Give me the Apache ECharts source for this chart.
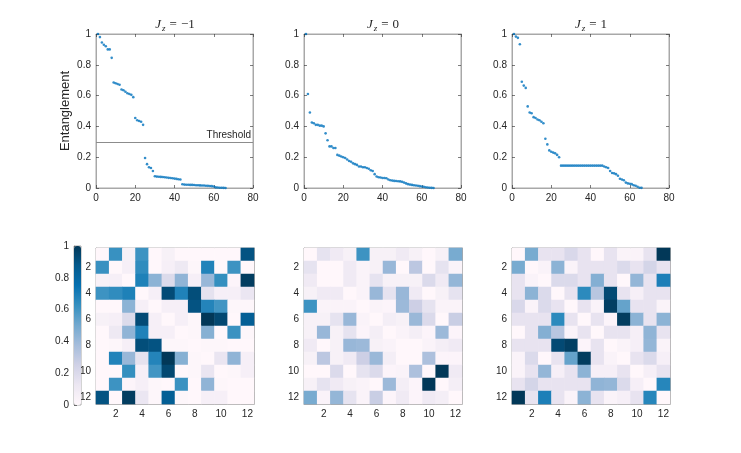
<!DOCTYPE html>
<html lang="en">
<head>
<meta charset="UTF-8">
<title>Entanglement</title>
<style>
  * { box-sizing: border-box; padding: 0; margin: 0; }
  html, body, #main { width: 100%; height: 100%; background: #fff; }
</style>
<script src="https://cdn.jsdelivr.net/npm/echarts@6/dist/echarts.min.js"></script>
</head>
<body>
<div id="main"></div>
<script>
// sorted pair entanglement, one list per Jz
var entMinus = [1.0, 0.98, 0.945, 0.93, 0.92, 0.90, 0.90, 0.845,
  0.685, 0.68, 0.675, 0.67, 0.64, 0.635, 0.625, 0.615, 0.61, 0.605, 0.59,
  0.455, 0.44, 0.435, 0.43, 0.41,
  0.195, 0.155, 0.135, 0.13, 0.11,
  0.076, 0.074, 0.073, 0.072, 0.071, 0.07, 0.068, 0.066, 0.065, 0.063, 0.061, 0.059, 0.057, 0.055,
  0.024, 0.022, 0.021, 0.021, 0.02, 0.02, 0.019, 0.018, 0.018, 0.017, 0.016, 0.016, 0.015, 0.014, 0.013, 0.012, 0.01,
  0.004, 0.003, 0.002, 0.002, 0.001, 0];
var entZero = [1.0, 0.61, 0.49, 0.425, 0.42, 0.41, 0.41, 0.405, 0.405, 0.40,
  0.355, 0.31, 0.27, 0.27, 0.26, 0.26, 0.215, 0.21, 0.205, 0.20,
  0.195, 0.185, 0.175, 0.17, 0.16, 0.155, 0.15, 0.14, 0.14, 0.135,
  0.135, 0.13, 0.125, 0.115, 0.11, 0.09, 0.075, 0.07, 0.068, 0.065,
  0.065, 0.063, 0.055, 0.05, 0.048, 0.046, 0.045, 0.044, 0.043, 0.04,
  0.035, 0.03, 0.025, 0.022, 0.02, 0.018, 0.016, 0.015, 0.012, 0.01,
  0.008, 0.005, 0.003, 0.002, 0.001, 0];
var entPlus = [1.0, 0.983, 0.975, 0.933, 0.69, 0.665, 0.65, 0.53, 0.49, 0.485,
  0.46, 0.455, 0.445, 0.44, 0.43, 0.42, 0.32, 0.283, 0.244, 0.235,
  0.23, 0.225, 0.215, 0.2,
  0.145, 0.145, 0.145, 0.145, 0.145, 0.145, 0.145, 0.145, 0.145, 0.145, 0.145,
  0.145, 0.145, 0.145, 0.145, 0.145, 0.145, 0.145, 0.145, 0.145, 0.145, 0.145,
  0.14, 0.135, 0.13, 0.11, 0.097, 0.095, 0.09, 0.08, 0.06, 0.055,
  0.05, 0.035, 0.03, 0.028, 0.025, 0.018, 0.015, 0.008, 0.002, 0.001];

// 12x12 site-pair matrices (row i, column j)
var matMinus = [
  [0, .62, .05, .61, 0, .05, 0, 0, 0, 0, 0, .90],
  [.62, 0, .06, .64, 0, .06, .11, .01, .675, 0, .61, 0],
  [.05, .06, 0, .685, .44, .195, .43, .06, .41, .63, .02, .98],
  [.61, .64, .685, 0, .06, .93, .68, .92, .155, .06, .06, .13],
  [0, 0, .44, .06, 0, .06, .06, .90, .67, .60, .01, .01],
  [.05, .06, .195, .93, .06, 0, .06, .01, 1.0, .94, 0, .845],
  [0, .11, .43, .68, .06, .06, 0, .01, .455, 0, .615, .01],
  [0, .01, .06, .92, .90, .01, .01, 0, .01, .01, 0, 0],
  [0, .675, .41, .155, .67, 1.0, .455, .01, 0, .135, .43, .06],
  [0, 0, .63, .06, .60, .94, 0, .01, .135, 0, .01, .06],
  [0, .61, .02, .06, .01, 0, .615, 0, .43, .01, 0, 0],
  [.90, 0, .98, .13, .01, .845, .01, 0, .06, .06, 0, 0]
];
var matZero = [
  [0, .15, .1, .05, .61, .05, .05, .1, .05, 0, .05, .49],
  [.15, 0, 0, .1, .03, .05, .41, 0, .31, 0, .15, .03],
  [.1, 0, 0, .1, .03, .15, .05, .05, .05, .2, .1, .42],
  [.05, .1, .1, 0, .03, .41, .15, .41, .1, 0, .05, .15],
  [.61, .03, .03, .03, 0, .03, .02, .40, .26, .15, .03, .03],
  [.05, .05, .15, .41, .03, 0, .07, .05, .405, .2, 0, .27],
  [.05, .41, .05, .15, .02, .07, 0, .03, .07, .02, .40, .02],
  [.1, 0, .05, .41, .40, .05, .03, 0, 0, .03, .07, .1],
  [.05, .31, .05, .1, .26, .405, .07, 0, 0, .355, .02, .02],
  [0, 0, .2, 0, .15, .2, .02, .03, .355, 0, 1.0, .1],
  [.05, .15, .1, .05, .03, 0, .40, .07, .02, 1.0, 0, .07],
  [.49, .03, .42, .15, .03, .27, .02, .1, .02, .1, .07, 0]
];
var matPlus = [
  [0, .49, .145, .145, .21, .145, 0, .145, .03, .03, .145, 1.0],
  [.49, 0, .03, .44, .03, .145, .145, .145, .2, .145, .23, .145],
  [.145, .03, 0, .2, .2, .145, .46, .145, 0, .42, .145, .69],
  [.145, .44, .2, 0, .145, .65, .32, .933, .145, .06, .145, .145],
  [.21, .03, .2, .145, 0, .145, .03, .975, .53, .145, .145, .03],
  [.145, .145, .145, .65, .145, 0, .145, .02, .983, .44, .145, .44],
  [0, .145, .46, .32, .03, .145, 0, .145, .145, .06, .43, .145],
  [.145, .145, .145, .933, .975, .02, .145, 0, .03, .06, .42, .03],
  [.03, .2, 0, .145, .53, .983, .145, .03, 0, .145, .2, .06],
  [.03, .145, .42, .06, .145, .44, .06, .06, .145, 0, .06, .145],
  [.145, .23, .145, .145, .145, .145, .43, .42, .2, .06, 0, .665],
  [1.0, .145, .69, .145, .03, .44, .145, .03, .06, .145, .665, 0]
];

var jzLabels = ['\u22121', '0', '1'];
var siteLabels = ['1', '2', '3', '4', '5', '6', '7', '8', '9', '10', '11', '12'];
var threshold = 0.3;

var pubu = ['#fff7fb', '#ece7f2', '#d0d1e6', '#a6bddb', '#74a9cf', '#3690c0', '#0570b0', '#045a8d', '#023858'];
var font = 'Liberation Sans';
var serif = 'Liberation Serif';
var boxColor = '#a8a8a8';
var textColor = '#262626';

var chart = echarts.init(document.getElementById('main'));

var colLeft = [96, 304, 512];
var grids = [], xAxes = [], yAxes = [], series = [], graphics = [];

function evenOnly(idx) { return idx % 2 === 1; }

function makeAxis(gi, pos, extra, showLabel) {
  return Object.assign({
    gridIndex: gi,
    position: pos,
    axisLine: { show: true, onZero: false, lineStyle: { color: boxColor, width: 1 } },
    axisTick: { show: true, inside: true, length: 3, lineStyle: { color: textColor, width: 0.6 } },
    axisLabel: { show: showLabel, fontFamily: font, fontSize: 10, color: textColor, margin: 5 },
    splitLine: { show: false }
  }, extra);
}

var ents = [entMinus, entZero, entPlus];
var mats = [matMinus, matZero, matPlus];

// top row: sorted entanglement
for (var i = 0; i < 3; i++) {
  grids.push({ left: colLeft[i], top: 34, width: 157, height: 154, show: true, borderColor: boxColor, borderWidth: 1 });
  var vx = { type: 'value', min: 0, max: 80, interval: 20 };
  var vy = { type: 'value', min: 0, max: 1, interval: 0.2 };
  xAxes.push(makeAxis(i, 'bottom', vx, true));
  xAxes.push(makeAxis(i, 'top', vx, false));
  var yMain = makeAxis(i, 'left', vy, true);
  if (i === 0) {
    yMain.name = 'Entanglement';
    yMain.nameLocation = 'middle';
    yMain.nameGap = 24;
    yMain.nameTextStyle = { fontFamily: font, fontSize: 13, color: textColor };
  }
  yAxes.push(yMain);
  yAxes.push(makeAxis(i, 'right', vy, false));

  var pts = ents[i].map(function (v, k) { return [k + 1, v]; });
  var s = {
    type: 'scatter', xAxisIndex: 2 * i, yAxisIndex: 2 * i, data: pts,
    symbol: 'circle', symbolSize: 2.6, itemStyle: { color: '#0072bd' }, silent: true
  };
  if (i === 0) {
    s.markLine = {
      silent: true, symbol: 'none', animation: false,
      data: [{ yAxis: threshold }],
      lineStyle: { color: '#8c8c8c', width: 1, type: 'solid' },
      label: { position: 'insideEndTop', formatter: 'Threshold', fontFamily: font, fontSize: 10, color: textColor, distance: 2 }
    };
  }
  series.push(s);

  // LaTeX-like title J_z = value
  graphics.push({
    type: 'text', x: colLeft[i] + 79, y: 25,
    style: {
      text: '{i|J}{s|z}{e|=}{n|' + jzLabels[i] + '}',
      align: 'center', verticalAlign: 'middle',
      rich: {
        i: { fontFamily: serif, fontStyle: 'italic', fontSize: 13, fill: textColor },
        s: { fontFamily: serif, fontStyle: 'italic', fontSize: 9, fill: textColor, padding: [7, 0, 0, 1] },
        e: { fontFamily: serif, fontSize: 13, fill: textColor, padding: [0, 4, 0, 4] },
        n: { fontFamily: serif, fontSize: 13, fill: textColor }
      }
    }
  });
}

// bottom row: pair matrices
for (var j = 0; j < 3; j++) {
  var gi = 3 + j;
  grids.push({ left: colLeft[j], top: 248, width: 158, height: 156, show: true, borderColor: boxColor, borderWidth: 1 });
  var cx = {
    type: 'category', data: siteLabels, boundaryGap: true,
    axisTick: { show: true, inside: true, length: 3, alignWithLabel: true, interval: evenOnly, lineStyle: { color: textColor, width: 0.6 } }
  };
  var cy = Object.assign({ inverse: true }, cx);
  var ax = makeAxis(gi, 'bottom', cx, true);
  ax.axisLabel.interval = evenOnly;
  xAxes.push(ax);
  xAxes.push(makeAxis(gi, 'top', cx, false));
  var ay = makeAxis(gi, 'left', cy, true);
  ay.axisLabel.interval = evenOnly;
  yAxes.push(ay);
  yAxes.push(makeAxis(gi, 'right', cy, false));

  var cells = [];
  mats[j].forEach(function (row, r) {
    row.forEach(function (v, c) { cells.push([c, r, v]); });
  });
  series.push({
    type: 'heatmap', xAxisIndex: 2 * gi, yAxisIndex: 2 * gi, data: cells, silent: true,
    emphasis: { disabled: true }
  });
}

// colorbar axis
grids.push({ left: 74, top: 246, width: 7, height: 159, show: true, borderColor: boxColor, borderWidth: 1, backgroundColor: 'transparent' });
xAxes.push({ gridIndex: 6, type: 'value', show: false, min: 0, max: 1 });
yAxes.push(makeAxis(6, 'left', { type: 'value', min: 0, max: 1, interval: 0.2 }, true));
series.push({ type: 'scatter', xAxisIndex: 12, yAxisIndex: 6, data: [] });

var option = {
  backgroundColor: '#fff',
  animation: false,
  grid: grids,
  xAxis: xAxes,
  yAxis: yAxes,
  visualMap: {
    type: 'continuous', min: 0, max: 1, seriesIndex: [3, 4, 5],
    inRange: { color: pubu },
    orient: 'vertical', left: 74, top: 246, padding: 0,
    itemWidth: 7, itemHeight: 159, calculable: false, text: null, hoverLink: false, z: 1
  },
  graphic: graphics,
  series: series
};
chart.setOption(option);
window.onresize = chart.resize;
</script>
</body>
</html>
